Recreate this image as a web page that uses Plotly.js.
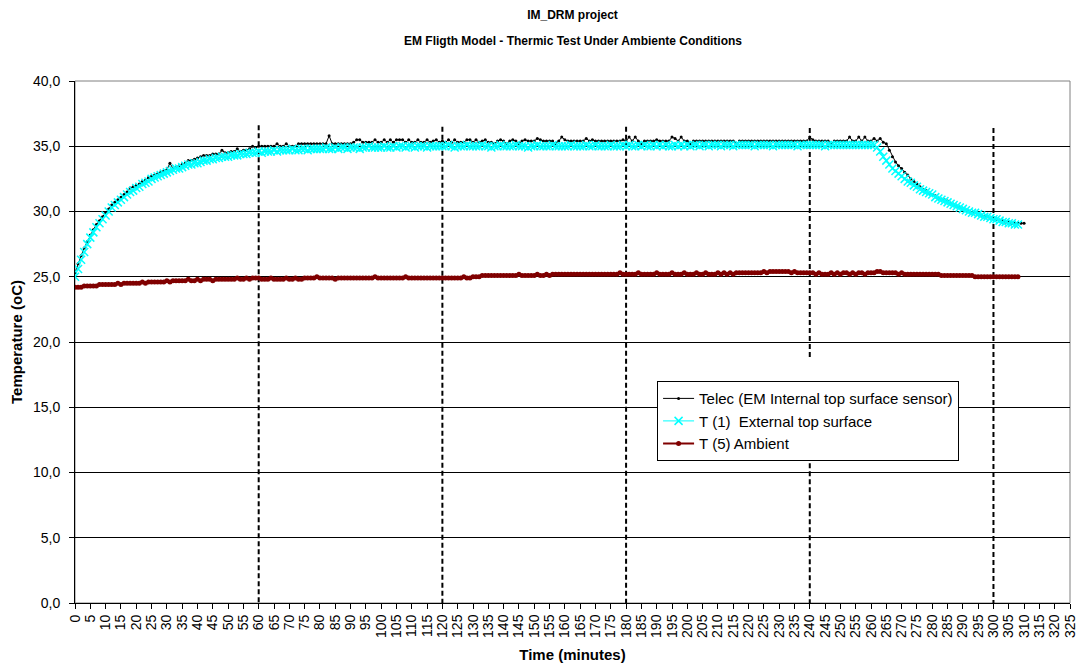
<!DOCTYPE html>
<html><head><meta charset="utf-8">
<script src="https://cdn.plot.ly/plotly-3.0.1.min.js"></script>
<style>html,body{margin:0;padding:0;background:#fff}#chart{width:1081px;height:665px}</style>
</head><body><div id="chart"></div>
<script>
const minutes = [
0,1,2,3,4,5,6,7,8,9,10,11,12,13,14,15,16,17,18,19,20,21,22,23,24,25,26,27,28,29,
30,31,32,33,34,35,36,37,38,39,40,41,42,43,44,45,46,47,48,49,50,51,52,53,54,55,56,57,58,59,
60,61,62,63,64,65,66,67,68,69,70,71,72,73,74,75,76,77,78,79,80,81,82,83,84,85,86,87,88,89,
90,91,92,93,94,95,96,97,98,99,100,101,102,103,104,105,106,107,108,109,110,111,112,113,114,115,116,117,118,119,
120,121,122,123,124,125,126,127,128,129,130,131,132,133,134,135,136,137,138,139,140,141,142,143,144,145,146,147,148,149,
150,151,152,153,154,155,156,157,158,159,160,161,162,163,164,165,166,167,168,169,170,171,172,173,174,175,176,177,178,179,
180,181,182,183,184,185,186,187,188,189,190,191,192,193,194,195,196,197,198,199,200,201,202,203,204,205,206,207,208,209,
210,211,212,213,214,215,216,217,218,219,220,221,222,223,224,225,226,227,228,229,230,231,232,233,234,235,236,237,238,239,
240,241,242,243,244,245,246,247,248,249,250,251,252,253,254,255,256,257,258,259,260,261,262,263,264,265,266,267,268,269,
270,271,272,273,274,275,276,277,278,279,280,281,282,283,284,285,286,287,288,289,290,291,292,293,294,295,296,297,298,299,
300,301,302,303,304,305,306,307,308,309,310];

const telec = [
25.3,26.0,26.6,27.2,27.7,28.2,28.6,29.0,29.3,29.6,
29.9,30.2,30.5,30.7,30.9,31.1,31.3,31.5,31.8,31.9,
32.0,32.1,32.3,32.4,32.6,32.7,32.8,32.9,33.0,33.1,
33.2,33.7,33.3,33.4,33.5,33.6,33.7,33.9,33.9,34.0,
34.1,34.2,34.3,34.3,34.3,34.4,34.4,34.4,34.7,34.5,
34.5,34.6,34.6,34.8,34.6,34.7,34.7,34.8,35.0,34.9,
35.0,35.0,35.0,35.0,35.0,35.0,35.2,35.0,35.0,35.2,
35.0,35.0,35.0,35.2,35.2,35.2,35.2,35.2,35.2,35.2,
35.2,35.2,35.2,35.8,35.2,35.2,35.2,35.2,35.2,35.2,
35.2,35.3,35.5,35.5,35.3,35.3,35.3,35.3,35.5,35.3,
35.3,35.5,35.3,35.5,35.3,35.5,35.5,35.5,35.3,35.5,
35.3,35.3,35.5,35.3,35.3,35.5,35.3,35.4,35.5,35.3,
35.4,35.3,35.5,35.3,35.5,35.3,35.3,35.3,35.5,35.5,
35.3,35.5,35.3,35.4,35.5,35.3,35.3,35.2,35.4,35.5,
35.4,35.2,35.4,35.5,35.4,35.2,35.4,35.5,35.4,35.4,
35.4,35.6,35.5,35.4,35.4,35.4,35.4,35.2,35.4,35.7,
35.5,35.4,35.4,35.4,35.4,35.4,35.4,35.6,35.4,35.5,
35.4,35.4,35.4,35.4,35.4,35.4,35.4,35.4,35.4,35.5,
35.4,35.7,35.4,35.7,35.4,35.2,35.4,35.4,35.4,35.4,
35.5,35.4,35.4,35.4,35.4,35.7,35.6,35.4,35.7,35.4,
35.4,35.2,35.4,35.4,35.4,35.4,35.4,35.4,35.4,35.4,
35.4,35.4,35.4,35.4,35.4,35.4,35.2,35.4,35.4,35.4,
35.4,35.4,35.4,35.4,35.4,35.4,35.4,35.4,35.4,35.4,
35.4,35.4,35.4,35.4,35.4,35.4,35.4,35.4,35.4,35.4,
35.7,35.5,35.4,35.4,35.4,35.4,35.4,35.2,35.4,35.4,
35.4,35.4,35.4,35.7,35.4,35.4,35.7,35.4,35.7,35.4,
35.4,35.6,35.4,35.6,35.3,35.2,34.7,34.2,33.8,33.5,
33.3,33.0,32.8,32.5,32.3,32.1,31.9,31.7,31.6,31.4,
31.3,31.2,31.0,30.9,30.9,30.8,30.6,30.5,30.4,30.3,
30.2,30.1,30.0,29.9,29.9,29.8,29.7,29.6,29.6,29.5,
29.4,29.4,29.3,29.3,29.2,29.2,29.1,29.1,29.1,29.1,
29.1];

const tExternal = [
25.0,25.6,26.3,26.9,27.5,28.0,28.4,28.8,29.1,29.4,
29.7,30.0,30.3,30.5,30.7,30.9,31.1,31.3,31.5,31.6,
31.8,31.9,32.1,32.2,32.3,32.5,32.6,32.7,32.8,32.9,
33.0,33.1,33.2,33.3,33.3,33.4,33.5,33.6,33.6,33.7,
33.7,33.8,33.9,33.9,34.0,34.0,34.1,34.1,34.2,34.2,
34.2,34.3,34.3,34.3,34.4,34.4,34.4,34.5,34.5,34.5,
34.6,34.5,34.6,34.6,34.6,34.7,34.6,34.7,34.7,34.7,
34.7,34.8,34.7,34.7,34.8,34.8,34.7,34.8,34.8,34.8,
34.8,34.8,34.9,34.8,34.8,34.9,34.8,34.9,34.9,34.8,
34.9,34.9,34.9,34.8,34.9,34.9,35.0,34.9,34.9,34.9,
34.9,35.0,34.9,34.9,35.0,34.9,35.0,35.0,34.9,35.0,
35.0,34.9,35.0,35.0,35.0,34.9,35.0,35.0,35.0,35.0,
35.0,35.0,35.1,35.0,34.9,35.0,35.0,35.0,35.1,35.0,
35.0,35.0,35.0,35.1,35.0,35.0,34.9,35.0,35.0,35.1,
35.0,35.0,35.0,35.0,35.1,35.0,35.0,35.0,34.9,35.0,
35.0,35.1,35.0,35.0,35.0,35.0,35.1,35.0,35.0,35.0,
35.0,35.0,35.1,35.0,35.0,35.0,35.0,35.1,35.0,35.0,
35.1,35.0,35.0,35.0,35.0,35.1,35.0,35.0,35.0,35.1,
35.0,35.1,35.0,35.0,35.1,35.0,35.1,35.0,35.0,35.1,
35.0,35.1,35.0,35.1,35.0,35.0,35.1,35.0,35.1,35.0,
35.1,35.0,35.1,35.1,35.0,35.1,35.1,35.0,35.1,35.1,
35.1,35.0,35.1,35.1,35.1,35.0,35.1,35.1,35.1,35.1,
35.1,35.1,35.0,35.1,35.1,35.1,35.1,35.1,35.0,35.1,
35.1,35.1,35.1,35.1,35.1,35.1,35.0,35.1,35.1,35.1,
35.1,35.1,35.1,35.1,35.1,35.0,35.1,35.1,35.1,35.1,
35.1,35.1,35.1,35.1,35.1,35.1,35.1,35.1,35.1,35.1,
35.1,35.1,34.9,34.6,34.2,33.9,33.6,33.3,33.1,32.9,
32.7,32.5,32.3,32.2,32.0,31.9,31.7,31.6,31.5,31.4,
31.3,31.1,31.0,30.9,30.8,30.7,30.6,30.5,30.4,30.3,
30.2,30.1,30.0,29.9,29.9,29.8,29.7,29.6,29.6,29.5,
29.4,29.4,29.3,29.2,29.2,29.1,29.1,29.0,29.0];

const tAmbient = [
24.2,24.2,24.2,24.3,24.3,24.3,24.3,24.3,24.4,24.4,
24.4,24.4,24.4,24.4,24.5,24.4,24.5,24.5,24.5,24.5,
24.5,24.5,24.6,24.5,24.6,24.6,24.6,24.6,24.6,24.6,
24.7,24.6,24.7,24.7,24.7,24.7,24.7,24.8,24.7,24.7,
24.8,24.7,24.8,24.8,24.8,24.7,24.8,24.8,24.8,24.8,
24.8,24.8,24.8,24.9,24.8,24.8,24.9,24.8,24.9,24.9,
24.9,24.8,24.8,24.8,24.9,24.8,24.8,24.8,24.8,24.9,
24.8,24.8,24.9,24.8,24.8,24.9,24.9,24.9,24.9,25.0,
24.9,24.9,24.9,24.9,24.9,24.8,24.9,24.9,24.9,24.9,
24.9,24.9,24.9,24.9,24.9,24.9,24.9,24.9,25.0,24.9,
24.9,24.9,24.9,24.9,24.9,24.9,24.9,24.9,25.0,24.9,
24.9,24.9,24.9,24.9,24.9,24.9,24.9,24.9,24.9,24.9,
24.9,24.9,24.9,24.9,24.9,24.9,24.9,25.0,24.9,24.9,
25.0,25.0,25.0,25.1,25.1,25.1,25.1,25.1,25.1,25.1,
25.1,25.1,25.1,25.1,25.1,25.2,25.1,25.1,25.1,25.1,
25.1,25.2,25.1,25.1,25.2,25.1,25.2,25.2,25.2,25.2,
25.2,25.2,25.2,25.2,25.2,25.2,25.2,25.2,25.2,25.2,
25.2,25.2,25.2,25.2,25.2,25.2,25.2,25.2,25.3,25.2,
25.2,25.2,25.2,25.2,25.3,25.2,25.2,25.2,25.2,25.2,
25.3,25.2,25.2,25.2,25.2,25.3,25.2,25.2,25.2,25.3,
25.2,25.2,25.2,25.3,25.2,25.2,25.3,25.2,25.2,25.2,
25.3,25.2,25.3,25.2,25.3,25.2,25.3,25.3,25.3,25.3,
25.3,25.3,25.3,25.3,25.3,25.4,25.3,25.4,25.4,25.4,
25.4,25.4,25.4,25.4,25.3,25.4,25.3,25.3,25.3,25.3,
25.3,25.3,25.2,25.3,25.2,25.2,25.2,25.3,25.2,25.3,
25.2,25.3,25.3,25.2,25.3,25.2,25.3,25.3,25.2,25.3,
25.3,25.3,25.4,25.4,25.3,25.3,25.3,25.3,25.3,25.2,
25.3,25.2,25.2,25.2,25.2,25.2,25.2,25.2,25.2,25.2,
25.2,25.2,25.2,25.1,25.1,25.1,25.1,25.1,25.1,25.1,
25.1,25.1,25.1,25.1,25.0,25.0,25.0,25.0,25.0,25.0,
25.0,25.0,25.0,25.0,25.0,25.0,25.0,25.0,25.0];

const seriesNames = ['Telec (EM Internal top surface sensor)', 'T (1)  External top surface', 'T (5) Ambient'];
const dividerTimes = [60, 120, 180, 240, 300];
const dividerTops = [36.6, 36.5, 36.5, 36.4, 36.4];
const gapTime = 240, gapUpper = 18.8, gapLower = 10.7;
const titleLines = ['IM_DRM project', 'EM Fligth Model - Thermic Test Under Ambiente Conditions'];
const xTitle = 'Time (minutes)';
const yTitle = 'Temperature (oC)';

const dx = [], dy = [];
dividerTimes.forEach((t, i) => {
  if (t === gapTime) {
    dx.push(t, t, null, t, t, null);
    dy.push(dividerTops[i], gapUpper, null, gapLower, 0, null);
  } else {
    dx.push(t, t, null);
    dy.push(dividerTops[i], 0, null);
  }
});

const font = 'Liberation Sans, Arial, sans-serif';
const traces = [
  {x: dx, y: dy, mode: 'lines', showlegend: false, hoverinfo: 'skip',
   line: {color: '#000000', width: 2, dash: '5px,3px'}},
  {x: minutes, y: telec, name: seriesNames[0], mode: 'lines+markers',
   line: {color: '#000000', width: 1}, marker: {symbol: 'circle', size: 3, color: '#000000'}},
  {x: minutes.slice(0, tExternal.length), y: tExternal, name: seriesNames[1], mode: 'lines+markers',
   line: {color: '#00FFFF', width: 1}, marker: {symbol: 'x-thin-open', size: 8, color: '#00FFFF', line: {color: '#00FFFF', width: 1.5}}},
  {x: minutes.slice(0, tAmbient.length), y: tAmbient, name: seriesNames[2], mode: 'lines+markers',
   line: {color: '#800000', width: 2}, marker: {symbol: 'circle', size: 5, color: '#800000'}}
];

const layout = {
  width: 1081, height: 665,
  margin: {l: 75, r: 11, t: 81, b: 62},
  paper_bgcolor: '#ffffff', plot_bgcolor: '#ffffff',
  separators: ', ',
  font: {family: font, size: 14, color: '#000000'},
  title: {text: '<b>' + titleLines[0] + '</b>', x: 0.5, xref: 'paper', y: 1 - 15/665, yanchor: 'middle',
          font: {family: font, size: 12, color: '#000000'}},
  annotations: [{text: '<b>' + titleLines[1] + '</b>', xref: 'paper', yref: 'paper', x: 0.5, y: 1 + 40/522,
                 yanchor: 'middle', showarrow: false, font: {family: font, size: 12, color: '#000000'}}],
  xaxis: {range: [0, 325], tick0: 0, dtick: 5, tickangle: -90, ticks: 'outside', ticklen: 5, tickcolor: '#000',
          showgrid: false, zeroline: false, showline: true, linecolor: '#000', linewidth: 1,
          tickfont: {family: font, size: 14}, fixedrange: true,
          title: {text: '<b>' + xTitle + '</b>', standoff: 12, font: {family: font, size: 15}}},
  yaxis: {range: [0, 40], tick0: 0, dtick: 5, tickformat: '.1f', ticks: 'outside', ticklen: 5, tickcolor: '#000',
          showgrid: true, gridcolor: '#000', gridwidth: 1, zeroline: false, showline: true, linecolor: '#000', linewidth: 1,
          tickfont: {family: font, size: 14}, ticklabelstandoff: 6, fixedrange: true,
          title: {text: '<b>' + yTitle + '</b>', standoff: 6, font: {family: font, size: 15}}},
  shapes: [{type: 'rect', xref: 'paper', yref: 'paper', x0: 0, x1: 1, y0: 0, y1: 1,
            line: {color: '#808080', width: 1}, layer: 'below'}],
  legend: {x: 0.585, y: 0.425, xanchor: 'left', yanchor: 'top', bgcolor: '#ffffff', bordercolor: '#000', borderwidth: 1,
           font: {family: font, size: 15}, itemwidth: 31, tracegroupgap: 0},
  showlegend: true
};

Plotly.newPlot('chart', traces, layout, {displayModeBar: false, staticPlot: true});
</script>
</body></html>
